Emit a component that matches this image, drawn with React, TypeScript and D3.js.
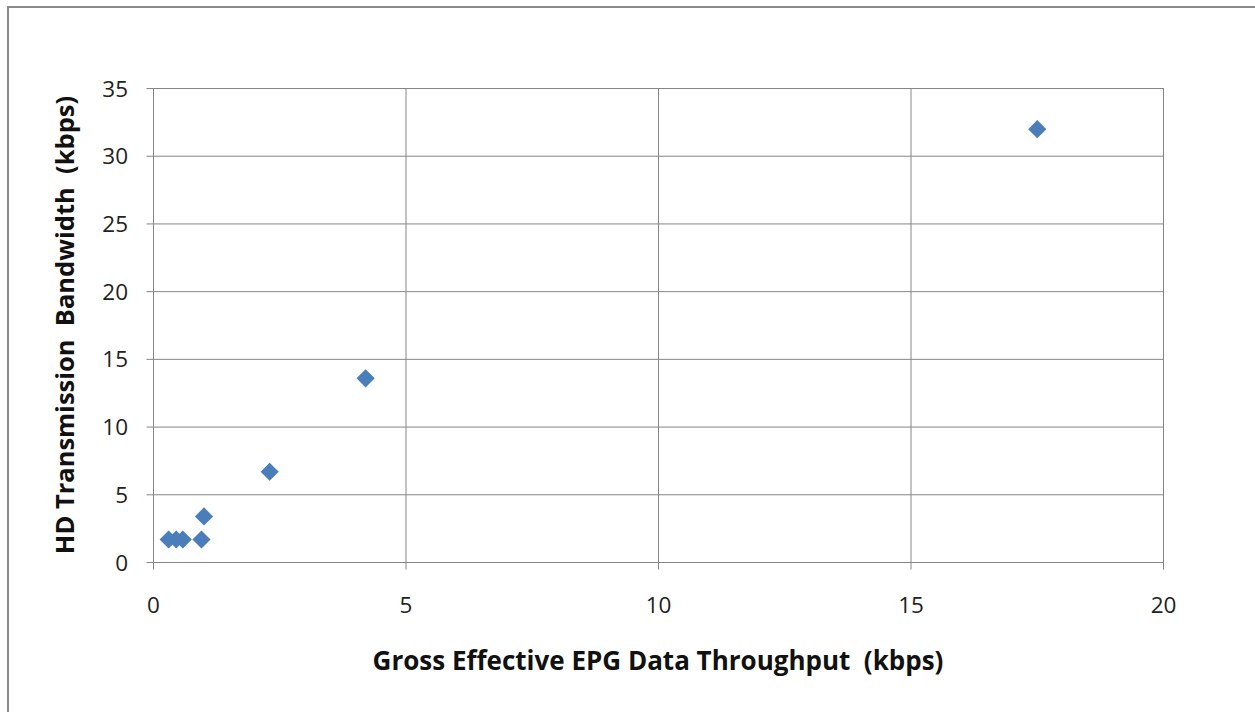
import React from "react";
import * as d3 from "d3";

const xValues = [17.5, 4.2, 2.3, 1.0, 0.95, 0.3, 0.45, 0.58];
const yValues = [32, 13.6, 6.7, 3.4, 1.7, 1.7, 1.7, 1.7];
const xTicks = [0, 5, 10, 15, 20];
const yTicks = [0, 5, 10, 15, 20, 25, 30, 35];
const xTitle = "Gross Effective EPG Data Throughput  (kbps)";
const yTitle = "HD Transmission  Bandwidth  (kbps)";

const W = 1255;
const H = 712;
const left = 153.5;
const right = 1163.5;
const top = 88.5;
const bottom = 562.5;
const font = "'Open Sans', sans-serif";

export default function App() {
  const x = d3.scaleLinear().domain([0, 20]).range([left, right]);
  const y = d3.scaleLinear().domain([0, 35]).range([bottom, top]);
  const diamond = d3.symbol().type(d3.symbolSquare).size(165)();
  const points = xValues.map((v, i) => ({ x: v, y: yValues[i] }));
  return (
    <svg
      width={W}
      height={H}
      style={{ position: "absolute", left: 0, top: 0, background: "#fff" }}
    >
      <rect x={8} y={7} width={W + 20} height={H + 20} fill="#fff" stroke="#8a8a8a" strokeWidth={2} />
      {yTicks.map((t) => (
        <g key={"y" + t}>
          <line x1={left - 7} x2={right} y1={y(t)} y2={y(t)} stroke="#868686" strokeWidth={1} />
          <text x={128} y={y(t)} dy="0.36em" textAnchor="end" fontFamily={font} fontSize={22.5} fill="#222">
            {t}
          </text>
        </g>
      ))}
      {xTicks.map((t) => (
        <g key={"x" + t}>
          <line x1={x(t)} x2={x(t)} y1={top} y2={bottom + 7} stroke="#868686" strokeWidth={1} />
          <text x={x(t)} y={605} dy="0.36em" textAnchor="middle" fontFamily={font} fontSize={22.5} fill="#222">
            {t}
          </text>
        </g>
      ))}
      <rect x={left} y={top} width={right - left} height={bottom - top} fill="none" stroke="#868686" strokeWidth={1} />
      {points.map((p, i) => (
        <path
          key={i}
          d={diamond}
          transform={`translate(${x(p.x)},${y(p.y)}) rotate(45)`}
          fill="#4a7ebb"
        />
      ))}
      <text x={658} y={661} dy="0.36em" textAnchor="middle" fontFamily={font} fontWeight="bold" fontSize={26} fill="#111" style={{ whiteSpace: "pre" }}>
        {xTitle}
      </text>
      <text
        transform={`translate(65,325) rotate(-90)`}
        dy="0.36em"
        textAnchor="middle"
        fontFamily={font}
        fontWeight="bold"
        fontSize={25.5}
        fill="#111"
        style={{ whiteSpace: "pre" }}
      >
        {yTitle}
      </text>
    </svg>
  );
}
